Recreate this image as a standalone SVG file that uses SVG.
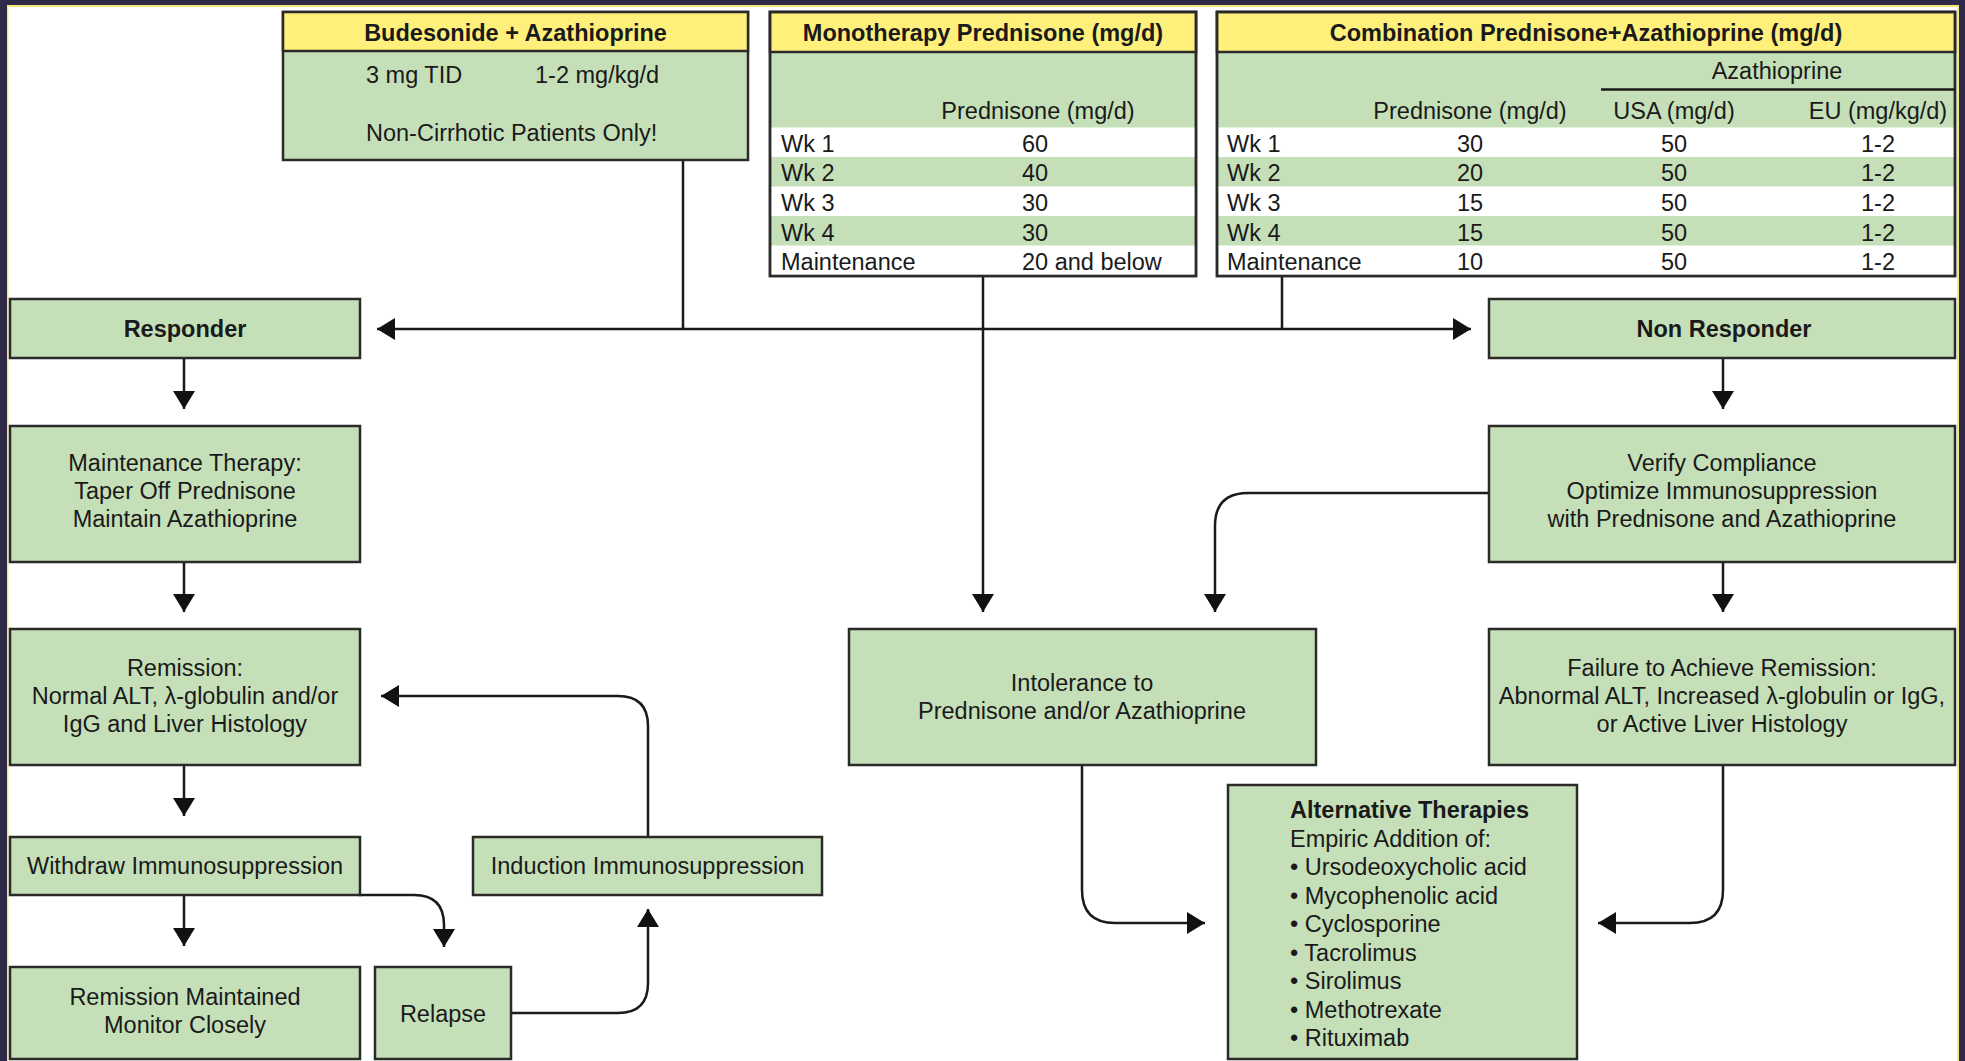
<svg xmlns="http://www.w3.org/2000/svg" width="1965" height="1061" viewBox="0 0 1965 1061">
<defs>
<style>
text{font-family:"Liberation Sans",Arial,Helvetica,sans-serif;font-size:23.5px;fill:#1a1a1a}
.b{font-weight:bold}
.c{text-anchor:middle}
.box{fill:#c5e0b9;stroke:#2a2a2a;stroke-width:2.5}
.hdr{fill:#fff07c;stroke:#2a2a2a;stroke-width:2.5}
.wr{fill:#ffffff}
.ln{fill:none;stroke:#1a1a1a;stroke-width:2.5}
.ar{marker-end:url(#ah)}
</style>
<marker id="ah" markerWidth="20" markerHeight="22" refX="18" refY="11" orient="auto" markerUnits="userSpaceOnUse">
<path d="M0,0 L18,11 L0,22 Z" fill="#111"/>
</marker>
</defs>
<rect x="0" y="0" width="1965" height="1061" fill="#2e2a48"/>
<rect x="7" y="5" width="1952" height="1070" fill="#f3e97a"/>
<rect x="8.5" y="7" width="1948.5" height="1070" fill="#ffffff"/>

<g id="connectors">
<path class="ln" d="M683 160 V329"/>
<path class="ln ar" d="M683 329 H377"/>
<path class="ln ar" d="M683 329 H1471"/>
<path class="ln" d="M1282 276 V329"/>
<path class="ln ar" d="M983 276 V612"/>
<path class="ln ar" d="M184 358 V409"/>
<path class="ln ar" d="M184 562 V612"/>
<path class="ln ar" d="M184 765 V816"/>
<path class="ln ar" d="M184 895 V946"/>
<path class="ln ar" d="M359 895 H414 Q444 895 444 925 V947"/>
<path class="ln ar" d="M511 1013 H618 Q648 1013 648 983 V909"/>
<path class="ln ar" d="M648 837 V726 Q648 696 618 696 H381"/>
<path class="ln ar" d="M1723 358 V409"/>
<path class="ln ar" d="M1723 562 V612"/>
<path class="ln ar" d="M1489 493 H1248 Q1215 493 1215 526 V612"/>
<path class="ln ar" d="M1082 765 V890 Q1082 923 1115 923 H1205"/>
<path class="ln ar" d="M1723 765 V890 Q1723 923 1690 923 H1598"/>
</g>

<g id="budesonide">
<rect class="box" x="283" y="12" width="465" height="148"/>
<rect class="hdr" x="283" y="12" width="465" height="39"/>
<text class="b c" x="515.5" y="41">Budesonide + Azathioprine</text>
<text x="366" y="83">3 mg TID</text>
<text x="535" y="83">1-2 mg/kg/d</text>
<text x="366" y="141">Non-Cirrhotic Patients Only!</text>
</g>

<g id="monotherapy">
<rect class="box" x="770" y="12" width="426" height="264"/>
<rect class="wr" x="771.5" y="127.5" width="423" height="29.5"/>
<rect class="wr" x="771.5" y="186.5" width="423" height="29.5"/>
<rect class="wr" x="771.5" y="245.5" width="423" height="29.3"/>
<rect class="hdr" x="770" y="12" width="426" height="40"/>
<rect x="770" y="12" width="426" height="264" fill="none" stroke="#2a2a2a" stroke-width="2.5"/>
<text class="b c" x="983" y="41">Monotherapy Prednisone (mg/d)</text>
<text class="c" x="1038" y="119">Prednisone (mg/d)</text>
<text x="781" y="152">Wk 1</text><text x="1022" y="152">60</text>
<text x="781" y="181">Wk 2</text><text x="1022" y="181">40</text>
<text x="781" y="211">Wk 3</text><text x="1022" y="211">30</text>
<text x="781" y="241">Wk 4</text><text x="1022" y="241">30</text>
<text x="781" y="270">Maintenance</text><text x="1022" y="270">20 and below</text>
</g>

<g id="combination">
<rect class="box" x="1217" y="12" width="738" height="264"/>
<rect class="wr" x="1218.5" y="127.5" width="735" height="29.5"/>
<rect class="wr" x="1218.5" y="186.5" width="735" height="29.5"/>
<rect class="wr" x="1218.5" y="245.5" width="735" height="29.3"/>
<rect class="hdr" x="1217" y="12" width="738" height="40"/>
<rect x="1217" y="12" width="738" height="264" fill="none" stroke="#2a2a2a" stroke-width="2.5"/>
<text class="b c" x="1586" y="41">Combination Prednisone+Azathioprine (mg/d)</text>
<text class="c" x="1777" y="79">Azathioprine</text>
<line x1="1601" y1="89.5" x2="1955" y2="89.5" stroke="#1a1a1a" stroke-width="2.5"/>
<text class="c" x="1470" y="119">Prednisone (mg/d)</text>
<text class="c" x="1674" y="119">USA (mg/d)</text>
<text class="c" x="1878" y="119">EU (mg/kg/d)</text>
<text x="1227" y="152">Wk 1</text><text class="c" x="1470" y="152">30</text><text class="c" x="1674" y="152">50</text><text class="c" x="1878" y="152">1-2</text>
<text x="1227" y="181">Wk 2</text><text class="c" x="1470" y="181">20</text><text class="c" x="1674" y="181">50</text><text class="c" x="1878" y="181">1-2</text>
<text x="1227" y="211">Wk 3</text><text class="c" x="1470" y="211">15</text><text class="c" x="1674" y="211">50</text><text class="c" x="1878" y="211">1-2</text>
<text x="1227" y="241">Wk 4</text><text class="c" x="1470" y="241">15</text><text class="c" x="1674" y="241">50</text><text class="c" x="1878" y="241">1-2</text>
<text x="1227" y="270">Maintenance</text><text class="c" x="1470" y="270">10</text><text class="c" x="1674" y="270">50</text><text class="c" x="1878" y="270">1-2</text>
</g>

<g id="responder">
<rect class="box" x="10" y="299" width="350" height="59"/>
<text class="b c" x="185" y="337">Responder</text>
</g>
<g id="maintenance">
<rect class="box" x="10" y="426" width="350" height="136"/>
<text class="c" x="185" y="471">Maintenance Therapy:</text>
<text class="c" x="185" y="499">Taper Off Prednisone</text>
<text class="c" x="185" y="527">Maintain Azathioprine</text>
</g>
<g id="remission">
<rect class="box" x="10" y="629" width="350" height="136"/>
<text class="c" x="185" y="676">Remission:</text>
<text class="c" x="185" y="704">Normal ALT, λ-globulin and/or</text>
<text class="c" x="185" y="732">IgG and Liver Histology</text>
</g>
<g id="withdraw">
<rect class="box" x="10" y="837" width="350" height="58"/>
<text class="c" x="185" y="874">Withdraw Immunosuppression</text>
</g>
<g id="remission-maintained">
<rect class="box" x="10" y="967" width="350" height="92"/>
<text class="c" x="185" y="1005">Remission Maintained</text>
<text class="c" x="185" y="1033">Monitor Closely</text>
</g>
<g id="relapse">
<rect class="box" x="375" y="967" width="136" height="92"/>
<text class="c" x="443" y="1022">Relapse</text>
</g>
<g id="induction">
<rect class="box" x="473" y="837" width="349" height="58"/>
<text class="c" x="647.5" y="874">Induction Immunosuppression</text>
</g>
<g id="non-responder">
<rect class="box" x="1489" y="299" width="466" height="59"/>
<text class="b c" x="1724" y="337">Non Responder</text>
</g>
<g id="verify">
<rect class="box" x="1489" y="426" width="466" height="136"/>
<text class="c" x="1722" y="471">Verify Compliance</text>
<text class="c" x="1722" y="499">Optimize Immunosuppression</text>
<text class="c" x="1722" y="527">with Prednisone and Azathioprine</text>
</g>
<g id="failure">
<rect class="box" x="1489" y="629" width="466" height="136"/>
<text class="c" x="1722" y="676">Failure to Achieve Remission:</text>
<text class="c" x="1722" y="704">Abnormal ALT, Increased λ-globulin or IgG,</text>
<text class="c" x="1722" y="732">or Active Liver Histology</text>
</g>
<g id="intolerance">
<rect class="box" x="849" y="629" width="467" height="136"/>
<text class="c" x="1082" y="691">Intolerance to</text>
<text class="c" x="1082" y="719">Prednisone and/or Azathioprine</text>
</g>
<g id="alternative">
<rect class="box" x="1228" y="785" width="349" height="274"/>
<text class="b" x="1290" y="818">Alternative Therapies</text>
<text x="1290" y="846.5">Empiric Addition of:</text>
<text x="1290" y="875">• Ursodeoxycholic acid</text>
<text x="1290" y="903.5">• Mycophenolic acid</text>
<text x="1290" y="932">• Cyclosporine</text>
<text x="1290" y="960.5">• Tacrolimus</text>
<text x="1290" y="989">• Sirolimus</text>
<text x="1290" y="1017.5">• Methotrexate</text>
<text x="1290" y="1046">• Rituximab</text>
</g>
</svg>
